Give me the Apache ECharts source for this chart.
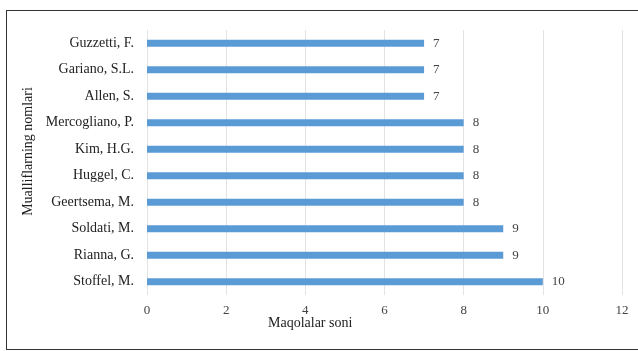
<!DOCTYPE html>
<html>
<head>
    <meta charset="UTF-8">
    <title>Mualliflar</title>
    <script src="https://cdn.jsdelivr.net/npm/echarts@6/dist/echarts.min.js"></script>
    <style>
    body, html { margin: 0; padding: 0; width: 638px; height: 351px; background: #fff; }
    #box {
        position: absolute; left: 6px; top: 10px; width: 632px; height: 340px;
        border: 1px solid #333; border-right: none; box-sizing: border-box;
    }
    #chart { position: absolute; left: 0; top: 0; width: 638px; height: 351px; }
    </style>
</head>
<body>
    <div id="box"></div>
    <div id="chart"></div>
    <script>
    // mualliflar (pastdan yuqoriga)
    var authors = ['Stoffel, M.', 'Rianna, G.', 'Soldati, M.', 'Geertsema, M.', 'Huggel, C.',
        'Kim, H.G.', 'Mercogliano, P.', 'Allen, S.', 'Gariano, S.L.', 'Guzzetti, F.'];
    var counts = [10, 9, 9, 8, 8, 8, 8, 7, 7, 7];
    var xTicks = [0, 2, 4, 6, 8, 10, 12];

    var chart = echarts.init(document.getElementById('chart'));
    var font = '"Liberation Serif", "DejaVu Serif", serif';
    chart.setOption({
        animation: false,
        textStyle: { fontFamily: font },
        // o'q nomi chapga surilgan, shuning uchun alohida matn
        title: {
            text: 'Maqolalar soni',
            left: 268,
            top: 316,
            padding: 0,
            textStyle: { fontFamily: font, fontSize: 14, fontWeight: 'normal', color: '#222' }
        },
        grid: { left: 147, right: 16, top: 30, bottom: 56 },
        xAxis: {
            type: 'value',
            min: xTicks[0],
            max: xTicks[xTicks.length - 1],
            interval: 2,
            axisLine: { show: false },
            axisTick: { show: false },
            axisLabel: { fontFamily: font, fontSize: 13, color: '#444', margin: 9 },
            splitLine: { show: true, lineStyle: { color: '#e3e3e3', width: 1 } }
        },
        yAxis: {
            type: 'category',
            data: authors,
            name: 'Mualliflarning nomlari',
            nameLocation: 'middle',
            nameGap: 109,
            nameRotate: 90,
            nameTextStyle: { fontFamily: font, fontSize: 14, color: '#222', padding: [0, 0, 0, 22] },
            axisLine: { show: false },
            axisTick: { show: false },
            axisLabel: { fontFamily: font, fontSize: 14, color: '#222', margin: 13 }
        },
        series: [{
            type: 'bar',
            data: counts,
            barWidth: 7,
            itemStyle: { color: '#5b9bd5' },
            label: {
                show: true,
                position: 'right',
                distance: 9,
                fontFamily: font,
                fontSize: 13,
                color: '#444'
            }
        }]
    });
    </script>
</body>
</html>
